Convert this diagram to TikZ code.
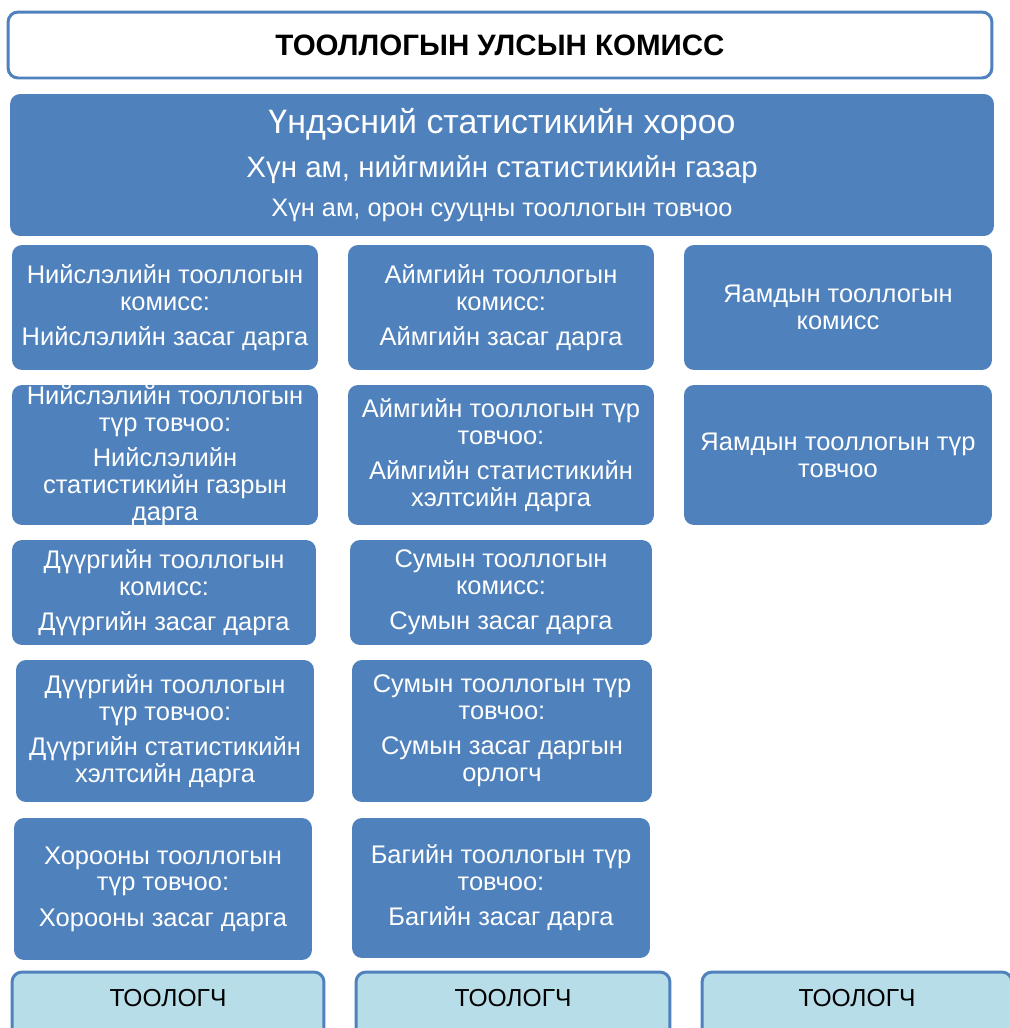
\documentclass[tikz,border=0pt]{standalone}
\usepackage{fontspec}
\setmainfont{Liberation Sans}
\definecolor{boxblue}{RGB}{79,129,189}
\definecolor{paleblue}{RGB}{183,221,232}
\begin{document}
\begin{tikzpicture}[x=0.02cm, y=-0.02cm, rectangle,
	blk/.style={fill=boxblue, text=white, rounded corners=0.2cm, align=center, inner sep=2pt, font=\fontsize{14.5}{15.3}\selectfont},
	head/.style={draw=boxblue, line width=1.7pt, fill=white, rounded corners=0.2cm, font=\bfseries\fontsize{16.8}{18}\selectfont},
	cnt/.style={draw=boxblue, line width=1.7pt, fill=paleblue, rounded corners=0.2cm, minimum height=1.36cm, text depth=0.32cm, font=\fontsize{14}{16}\selectfont}]

	\useasboundingbox (0,0) rectangle (1010,1028);

	\node [head, minimum width=19.68cm, minimum height=1.32cm] (ulsyn) at (500,45) {ТООЛЛОГЫН УЛСЫН КОМИСС};
	\node [blk, minimum width=19.68cm, minimum height=2.84cm, font=\fontsize{14.4}{22}\selectfont] (horoo) at (502,165)
		{{\fontsize{19.3}{22}\selectfont Үндэсний статистикийн хороо}\\[2.9pt]
		{\fontsize{16.8}{22}\selectfont Хүн ам, нийгмийн статистикийн газар}\\[0.1pt]
		Хүн ам, орон сууцны тооллогын товчоо};

	% niislel
	\node [blk, minimum width=6.12cm, minimum height=2.5cm] (nkom) at (165,307.5) {Нийслэлийн тооллогын\\комисс:\\[4.8pt]Нийслэлийн засаг дарга};
	\node [blk, minimum width=6.12cm, minimum height=2.8cm, inner ysep=0pt, text height=77pt, text depth=2.4pt] (ntvch) at (165,455) {Нийслэлийн тооллогын\\түр товчоо:\\[4.8pt]Нийслэлийн\\статистикийн газрын\\дарга};
	\node [blk, minimum width=6.08cm, minimum height=2.1cm] (dkom) at (164,592.5) {Дүүргийн тооллогын\\комисс:\\[4.8pt]Дүүргийн засаг дарга};
	\node [blk, minimum width=5.96cm, minimum height=2.84cm] (dtvch) at (165,731) {Дүүргийн тооллогын\\түр товчоо:\\[4.8pt]Дүүргийн статистикийн\\хэлтсийн дарга};
	\node [blk, minimum width=5.96cm, minimum height=2.84cm] (htvch) at (163,889) {Хорооны тооллогын\\түр товчоо:\\[4.8pt]Хорооны засаг дарга};

	% aimag
	\node [blk, minimum width=6.12cm, minimum height=2.5cm] (akom) at (501,307.5) {Аймгийн тооллогын\\комисс:\\[4.8pt]Аймгийн засаг дарга};
	\node [blk, minimum width=6.12cm, minimum height=2.8cm] (atvch) at (501,455) {Аймгийн тооллогын түр\\товчоо:\\[4.8pt]Аймгийн статистикийн\\хэлтсийн дарга};
	\node [blk, minimum width=6.04cm, minimum height=2.1cm] (skom) at (501,592.5) {Сумын тооллогын\\комисс:\\[4.8pt]Сумын засаг дарга};
	\node [blk, minimum width=6.0cm, minimum height=2.84cm] (stvch) at (502,731) {Сумын тооллогын түр\\товчоо:\\[4.8pt]Сумын засаг даргын\\орлогч};
	\node [blk, minimum width=5.96cm, minimum height=2.8cm] (btvch) at (501,888) {Багийн тооллогын түр\\товчоо:\\[4.8pt]Багийн засаг дарга};

	% yaam
	\node [blk, minimum width=6.16cm, minimum height=2.5cm] (ykom) at (838,307.5) {Яамдын тооллогын\\комисс};
	\node [blk, minimum width=6.16cm, minimum height=2.8cm] (ytvch) at (838,455) {Яамдын тооллогын түр\\товчоо};

	% toologch
	\node [cnt, minimum width=6.24cm] (tool1) at (168,1006) {ТООЛОГЧ};
	\node [cnt, minimum width=6.28cm] (tool2) at (513,1006) {ТООЛОГЧ};
	\node [cnt, minimum width=6.2cm] (tool3) at (857,1006) {ТООЛОГЧ};

\end{tikzpicture}
\end{document}
